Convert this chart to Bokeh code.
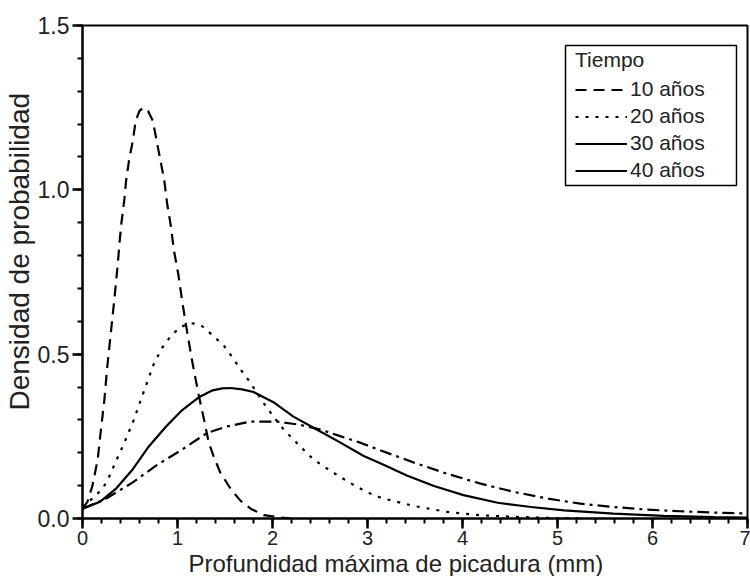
from bokeh.plotting import figure
from bokeh.models import (Range1d, SingleIntervalTicker, PrintfTickFormatter,
                          Legend, LegendItem, BoxAnnotation, Title)
from bokeh.embed import file_html
from bokeh.resources import INLINE

# ---- data ----
x10 = [0.0, 0.05, 0.105, 0.16, 0.19, 0.23, 0.26, 0.30, 0.34, 0.37, 0.39, 0.41, 0.44, 0.46,
       0.49, 0.53, 0.56, 0.60, 0.64, 0.69, 0.74, 0.78, 0.82, 0.86, 0.89, 0.93, 0.96, 1.01,
       1.05, 1.10, 1.16, 1.22, 1.28, 1.33, 1.38, 1.45, 1.56, 1.66, 1.77, 1.91, 2.08, 2.2]
y10 = [0.03, 0.05, 0.10, 0.18, 0.26, 0.36, 0.46, 0.57, 0.68, 0.77, 0.84, 0.90, 0.97, 1.03,
       1.09, 1.15, 1.21, 1.24, 1.25, 1.24, 1.21, 1.15, 1.09, 1.03, 0.96, 0.89, 0.82, 0.74,
       0.66, 0.57, 0.47, 0.38, 0.30, 0.23, 0.19, 0.14, 0.09, 0.055, 0.03, 0.01, 0.003, 0.0]

x20 = [0.0, 0.035, 0.10, 0.21, 0.27, 0.33, 0.44, 0.54, 0.65, 0.75, 0.84, 0.93, 1.02, 1.09,
       1.16, 1.26, 1.38, 1.49, 1.58, 1.66, 1.75, 1.91, 2.01, 2.12, 2.29, 2.43, 2.61, 2.75,
       2.89, 3.03, 3.14, 3.49, 3.84, 4.19, 4.54, 4.89, 5.3]
y20 = [0.035, 0.045, 0.06, 0.09, 0.12, 0.16, 0.23, 0.30, 0.39, 0.47, 0.52, 0.555, 0.58, 0.59,
       0.594, 0.585, 0.555, 0.525, 0.49, 0.455, 0.42, 0.35, 0.31, 0.27, 0.22, 0.18, 0.145, 0.12,
       0.096, 0.076, 0.063, 0.038, 0.02, 0.01, 0.005, 0.002, 0.0]

x30 = [0.0, 0.18, 0.35, 0.53, 0.70, 0.88, 1.05, 1.23, 1.37, 1.47, 1.56, 1.68, 1.80, 2.01,
       2.22, 2.47, 2.72, 2.96, 3.14, 3.42, 3.70, 4.01, 4.37, 4.72, 5.07, 5.59, 6.12, 6.65, 7.0]
y30 = [0.03, 0.05, 0.09, 0.15, 0.22, 0.28, 0.33, 0.37, 0.39, 0.396, 0.397, 0.393, 0.385, 0.354,
       0.31, 0.27, 0.23, 0.19, 0.167, 0.13, 0.099, 0.071, 0.048, 0.035, 0.025, 0.015, 0.008,
       0.004, 0.003]

x40 = [0.0, 0.245, 0.53, 0.77, 1.05, 1.31, 1.52, 1.77, 2.05, 2.29, 2.51, 2.72, 2.93, 3.14,
       3.49, 3.84, 4.19, 4.54, 4.89, 5.24, 5.59, 5.94, 6.29, 6.65, 7.0]
y40 = [0.03, 0.06, 0.11, 0.16, 0.21, 0.26, 0.28, 0.295, 0.295, 0.285, 0.27, 0.25, 0.23, 0.207,
       0.17, 0.136, 0.106, 0.081, 0.061, 0.045, 0.035, 0.027, 0.022, 0.018, 0.015]

labels = ["10 años", "20 años", "30 años", "40 años"]
legend_title = "Tiempo"
x_title = "Profundidad máxima de picadura (mm)"
y_title = "Densidad de probabilidad"

FONT = "Liberation Sans"
INK = "black"
TXT = "#222222"

p = figure(width=750, height=576, output_backend="svg", toolbar_location=None,
           x_range=Range1d(0, 7), y_range=Range1d(0, 1.5),
           min_border_left=82, min_border_right=3, min_border_top=25, min_border_bottom=56)
p.background_fill_color = "white"
p.border_fill_color = "white"
p.xgrid.visible = False
p.ygrid.visible = False
p.outline_line_color = INK
p.outline_line_width = 2

p.xaxis.ticker = SingleIntervalTicker(interval=1, num_minor_ticks=5)
p.yaxis.ticker = SingleIntervalTicker(interval=0.5, num_minor_ticks=5)
p.yaxis.formatter = PrintfTickFormatter(format="%.1f")
for ax in (p.xaxis[0], p.yaxis[0]):
    ax.axis_line_color = INK
    ax.axis_line_width = 2
    ax.major_tick_line_color = INK
    ax.major_tick_line_width = 2.5
    ax.minor_tick_line_color = INK
    ax.minor_tick_line_width = 2
    ax.major_tick_in = 0
    ax.major_tick_out = 10
    ax.minor_tick_in = 0
    ax.minor_tick_out = 5
    ax.major_label_text_font = FONT
    ax.major_label_text_color = TXT
p.xaxis[0].major_label_text_font_size = "20px"
p.yaxis[0].major_label_text_font_size = "23px"
p.xaxis[0].major_label_standoff = 2
p.yaxis[0].major_label_standoff = 3

# axis titles, shifted off-centre as in the reference
xt = Title(text=x_title, align="left", offset=106, standoff=0,
           text_font=FONT, text_font_size="24px", text_font_style="normal", text_color=TXT)
yt = Title(text=y_title, align="left", offset=108, standoff=0,
           text_font=FONT, text_font_size="28px", text_font_style="normal", text_color=TXT)
p.add_layout(xt, "below")
p.add_layout(yt, "left")

LW = 2.2
r10 = p.line(x10, y10, line_color=INK, line_width=LW, line_dash="11 7")
r20 = p.line(x20, y20, line_color=INK, line_width=LW, line_dash="3 7")
r30 = p.line(x30, y30, line_color=INK, line_width=LW)
r40 = p.line(x40, y40, line_color=INK, line_width=LW, line_dash="12 5 3 5")
# the reference legend shows a solid line for 40 años
r40_leg = p.line(x=[0.0], y=[float("nan")], line_color=INK, line_width=LW)

legend = Legend(items=[LegendItem(label=labels[0], renderers=[r10]),
                       LegendItem(label=labels[1], renderers=[r20]),
                       LegendItem(label=labels[2], renderers=[r30]),
                       LegendItem(label=labels[3], renderers=[r40_leg])],
                location=(487, 330), title=legend_title)
legend.title_text_font = FONT
legend.title_text_font_size = "21px"
legend.title_text_font_style = "normal"
legend.title_text_color = TXT
legend.title_standoff = 5
legend.label_text_font = FONT
legend.label_text_font_size = "21px"
legend.label_text_color = TXT
legend.glyph_width = 52
legend.glyph_height = 21
legend.label_height = 21
legend.label_standoff = 3
legend.spacing = 3
legend.padding = 6
legend.margin = 0
legend.border_line_alpha = 0
legend.background_fill_alpha = 0
p.add_layout(legend)

legend_frame = BoxAnnotation(left=483, right=654, bottom=333, top=473,
                             left_units="screen", right_units="screen",
                             bottom_units="screen", top_units="screen",
                             fill_alpha=0, line_color=INK, line_width=1.5, line_alpha=1)
p.add_layout(legend_frame)

open("out.html", "w").write(file_html(p, INLINE))
